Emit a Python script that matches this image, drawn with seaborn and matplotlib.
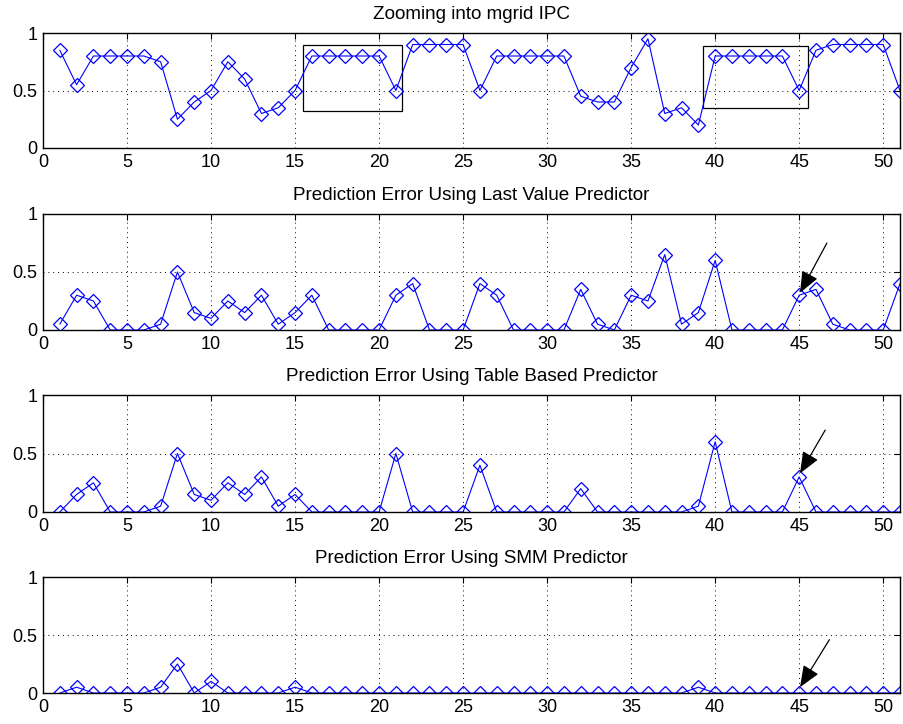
import numpy as np
import pandas as pd
import matplotlib
matplotlib.use("Agg")
import matplotlib.pyplot as plt
import seaborn as sns
from matplotlib.patches import Rectangle

sns.set_style("white")
plt.rcParams['font.family'] = ['Liberation Sans', 'DejaVu Sans']
plt.rcParams['text.color'] = 'black'

steps = list(range(1, 52))
ipc = [0.85, 0.55, 0.8, 0.8, 0.8, 0.8, 0.75, 0.25, 0.4, 0.5,
       0.75, 0.6, 0.3, 0.35, 0.5, 0.8, 0.8, 0.8, 0.8, 0.8,
       0.5, 0.9, 0.9, 0.9, 0.9, 0.5, 0.8, 0.8, 0.8, 0.8,
       0.8, 0.45, 0.4, 0.4, 0.7, 0.95, 0.3, 0.35, 0.2, 0.8,
       0.8, 0.8, 0.8, 0.8, 0.5, 0.85, 0.9, 0.9, 0.9, 0.9, 0.5]
err_last = [0.05, 0.3, 0.25, 0, 0, 0, 0.05, 0.5, 0.15, 0.1,
            0.25, 0.15, 0.3, 0.05, 0.15, 0.3, 0, 0, 0, 0,
            0.3, 0.4, 0, 0, 0, 0.4, 0.3, 0, 0, 0,
            0, 0.35, 0.05, 0, 0.3, 0.25, 0.65, 0.05, 0.15, 0.6,
            0, 0, 0, 0, 0.3, 0.35, 0.05, 0, 0, 0, 0.4]
err_table = [0, 0.15, 0.25, 0, 0, 0, 0.05, 0.5, 0.15, 0.1,
             0.25, 0.15, 0.3, 0.05, 0.15, 0, 0, 0, 0, 0,
             0.5, 0, 0, 0, 0, 0.4, 0, 0, 0, 0,
             0, 0.2, 0, 0, 0, 0, 0, 0, 0.05, 0.6,
             0, 0, 0, 0, 0.3, 0, 0, 0, 0, 0, 0]
err_smm = [0, 0.05, 0, 0, 0, 0, 0.05, 0.25, 0, 0.1,
           0, 0, 0, 0, 0.05, 0, 0, 0, 0, 0,
           0, 0, 0, 0, 0, 0, 0, 0, 0, 0,
           0, 0, 0, 0, 0, 0, 0, 0, 0.05, 0,
           0, 0, 0, 0, 0, 0, 0, 0, 0, 0, 0]

titles = ["Zooming into mgrid IPC",
          "Prediction Error Using Last Value Predictor",
          "Prediction Error Using Table Based Predictor",
          "Prediction Error Using SMM Predictor"]
series = [ipc, err_last, err_table, err_smm]
xticks = [0, 5, 10, 15, 20, 25, 30, 35, 40, 45, 50]
yticks = [0, 0.5, 1]
ytick_labels = ["0", "0.5", "1"]

fig = plt.figure(figsize=(9.04, 7.24), dpi=100)
W, H = 904, 724
left, right = 43, 900
panels = [(33, 148), (214, 330), (395, 512), (577, 693)]
axes = []
for (t, b) in panels:
    ax = fig.add_axes([left / W, 1 - b / H, (right - left) / W, (b - t) / H])
    axes.append(ax)

arrow_tails = [None, (46.65, 0.75), (46.55, 0.70), (46.8, 0.46)]
arrow_heads = [None, (45.05, 0.32), (45.05, 0.33), (45.05, 0.05)]

for i, ax in enumerate(axes):
    df = pd.DataFrame({"x": steps, "y": series[i]})
    sns.lineplot(data=df, x="x", y="y", ax=ax, color="blue", linewidth=0.8,
                 marker="D", markersize=6.7, markerfacecolor="none",
                 markeredgecolor="blue", markeredgewidth=0.9)
    ax.set_xlim(0, 51)
    ax.set_ylim(0, 1)
    ax.set_xticks(xticks)
    ax.set_xticklabels([str(v) for v in xticks], fontsize=13)
    ax.set_yticks(yticks)
    ax.set_yticklabels(ytick_labels, fontsize=13)
    ax.set_xlabel("")
    ax.set_ylabel("")
    ax.set_title(titles[i], fontsize=13.6, pad=10, color="black")
    ax.grid(True, linestyle=(0, (1, 4)), color="black", linewidth=0.7)
    ax.tick_params(direction="in", top=True, right=True, length=4,
                   width=0.8, pad=4, colors="black")
    for s in ax.spines.values():
        s.set_color("black")
        s.set_linewidth(1.0)
    if arrow_tails[i] is not None:
        ax.annotate("", xy=arrow_heads[i], xytext=arrow_tails[i],
                    arrowprops=dict(arrowstyle="-|>,head_length=1.1,head_width=0.45",
                                    mutation_scale=12,
                                    color="black", lw=0.9, shrinkA=0, shrinkB=0))

axes[0].add_patch(Rectangle((15.45, 0.32), 21.36 - 15.45, 0.90 - 0.32,
                            fill=False, edgecolor="black", linewidth=0.9))
axes[0].add_patch(Rectangle((39.3, 0.345), 45.5 - 39.3, 0.887 - 0.345,
                            fill=False, edgecolor="black", linewidth=0.9))

fig.savefig("out.png", dpi=100, facecolor="white")
